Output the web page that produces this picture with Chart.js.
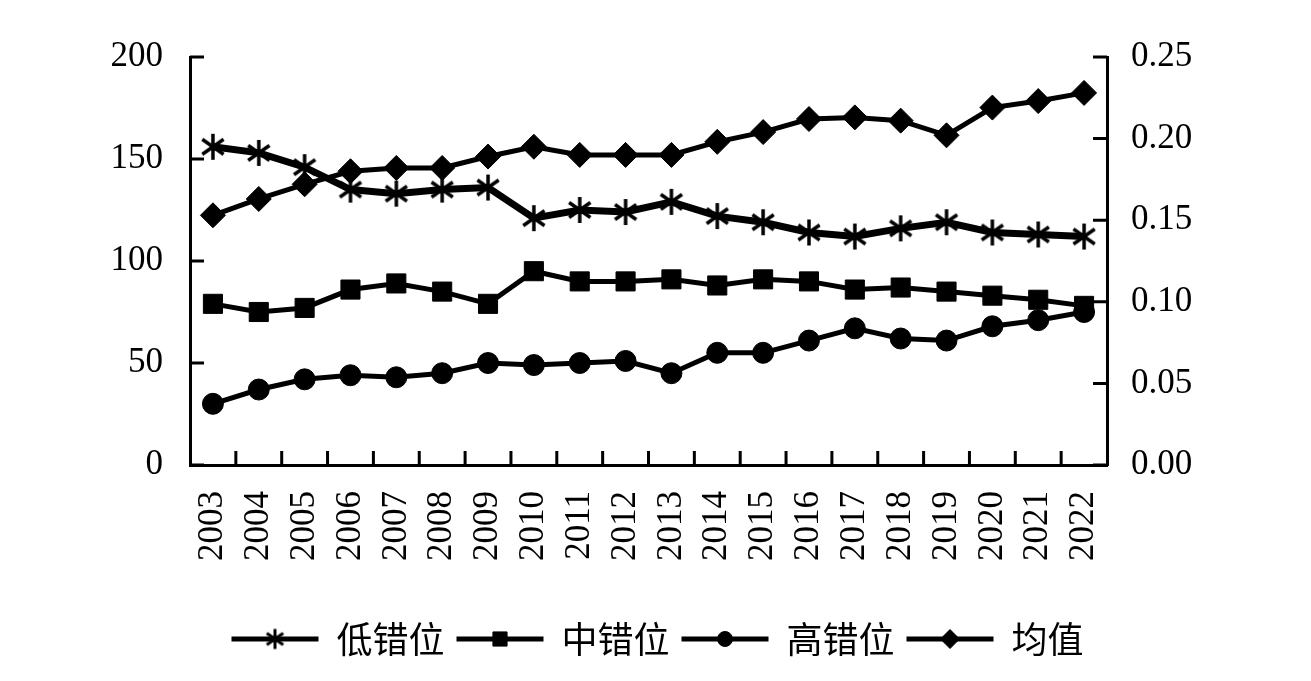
<!DOCTYPE html>
<html>
<head>
<meta charset="utf-8">
<script src="https://cdn.jsdelivr.net/npm/chart.js@4.4.1/dist/chart.umd.min.js"></script>
<style>
  html, body { margin: 0; padding: 0; background: #fff; }
  #wrap { width: 1311px; height: 681px; position: relative; }
</style>
</head>
<body>
<div id="wrap"><canvas id="canvas"></canvas></div>
<script>
const years = ['2003','2004','2005','2006','2007','2008','2009','2010','2011','2012',
               '2013','2014','2015','2016','2017','2018','2019','2020','2021','2022'];
const lowVals  = [156, 153, 146, 135, 133, 135, 136, 121, 125, 124,
                  129, 122, 119, 114, 112, 116, 119, 114, 113, 112];
const midVals  = [79, 75, 77, 86, 89, 85, 79, 95, 90, 90,
                  91, 88, 91, 90, 86, 87, 85, 83, 81, 78];
const highVals = [30, 37, 42, 44, 43, 45, 50, 49, 50, 51,
                  45, 55, 55, 61, 67, 62, 61, 68, 71, 75];
const meanVals = [0.153, 0.163, 0.172, 0.180, 0.182, 0.182, 0.189, 0.195, 0.190, 0.190,
                  0.190, 0.198, 0.204, 0.212, 0.213, 0.211, 0.202, 0.219, 0.223, 0.228];
const leftTicks = [0, 50, 100, 150, 200];
const rightTicks = [0, 0.05, 0.10, 0.15, 0.20, 0.25];
const names = ['低错位', '中错位', '高错位', '均值'];

const numFont = { family: '"Liberation Serif", "Times New Roman", serif', size: 35 };

// asterisk marker (vertical stroke plus an X)
function makeAsterisk(r, lw) {
  const c = document.createElement('canvas');
  const s = Math.ceil(2 * r + lw + 2);
  c.width = s; c.height = s;
  const g = c.getContext('2d');
  g.strokeStyle = '#000';
  g.lineWidth = lw;
  g.lineCap = 'butt';
  const m = s / 2;
  [90, 35, 145].forEach(function(a) {
    const rad = a * Math.PI / 180;
    g.beginPath();
    g.moveTo(m - r * Math.cos(rad), m - r * Math.sin(rad));
    g.lineTo(m + r * Math.cos(rad), m + r * Math.sin(rad));
    g.stroke();
  });
  return c;
}
const asterBig = makeAsterisk(13, 3.5);
const asterSmall = makeAsterisk(10, 3);

const markers = [
  { style: asterBig,  legend: asterSmall, r: 13, lr: 10 },
  { style: 'rect',    legend: 'rect',     r: 13.5, lr: 10 },
  { style: 'circle',  legend: 'circle',   r: 10.5, lr: 7.5 },
  { style: 'rectRot', legend: 'rectRot',  r: 12.5, lr: 9.5 }
];

function series(i, data, axis, width) {
  return {
    label: names[i],
    data: data,
    yAxisID: axis,
    borderColor: '#000',
    backgroundColor: '#000',
    borderWidth: width,
    pointStyle: markers[i].style,
    pointRadius: markers[i].r,
    pointHoverRadius: markers[i].r,
    pointBackgroundColor: '#000',
    pointBorderColor: '#000',
    pointBorderWidth: 1,
    tension: 0,
    clip: false
  };
}

// ticks pointing into the plot, drawn from the scales
const innerTicks = {
  id: 'innerTicks',
  afterDraw(chart) {
    const ctx = chart.ctx;
    const x = chart.scales.x, y = chart.scales.y, y1 = chart.scales.y1;
    const len = 14;
    ctx.save();
    ctx.strokeStyle = '#000';
    ctx.lineWidth = 3;
    ctx.beginPath();
    leftTicks.forEach(function(v) {
      const py = y.getPixelForValue(v);
      ctx.moveTo(y.right, py); ctx.lineTo(y.right + len, py);
    });
    rightTicks.forEach(function(v) {
      const py = y1.getPixelForValue(v);
      ctx.moveTo(y1.left, py); ctx.lineTo(y1.left - len, py);
    });
    for (let i = 1; i < years.length; i++) {
      const px = (x.getPixelForValue(i - 1) + x.getPixelForValue(i)) / 2;
      ctx.moveTo(px, x.top); ctx.lineTo(px, x.top - len);
    }
    ctx.stroke();
    ctx.restore();
  }
};

// markers on the legend lines
const legendMarks = {
  id: 'legendMarks',
  afterDraw(chart) {
    const lg = chart.legend;
    if (!lg || !lg.legendHitBoxes) return;
    const ctx = chart.ctx;
    const bw = lg.options.labels.boxWidth;
    const fs = lg.options.labels.font.size;
    ctx.save();
    ctx.fillStyle = '#000';
    ctx.strokeStyle = '#000';
    lg.legendHitBoxes.forEach(function(hb, i) {
      const m = markers[i];
      Chart.helpers.drawPoint(ctx, { pointStyle: m.legend, radius: m.lr, borderWidth: 1, rotation: 0 },
        hb.left + bw / 2, hb.top + fs / 2);
    });
    ctx.restore();
  }
};

new Chart(document.getElementById('canvas'), {
  type: 'line',
  data: {
    labels: years,
    datasets: [
      series(0, lowVals, 'y', 7),
      series(1, midVals, 'y', 5),
      series(2, highVals, 'y', 5),
      series(3, meanVals, 'y1', 5)
    ]
  },
  options: {
    responsive: true,
    maintainAspectRatio: false,
    animation: false,
    events: [],
    layout: { padding: { top: 57, right: 0, bottom: 14, left: 4 } },
    scales: {
      x: {
        type: 'category',
        offset: true,
        grid: { display: false, drawTicks: false },
        border: { display: true, color: '#000', width: 3 },
        ticks: {
          color: '#000', font: numFont, autoSkip: false,
          minRotation: 90, maxRotation: 90, padding: 26
        },
        afterFit(s) { s.height = 144; }
      },
      y: {
        position: 'left',
        min: 0, max: 200,
        grid: { display: false, drawTicks: false },
        border: { display: true, color: '#000', width: 3 },
        ticks: { color: '#000', font: numFont, stepSize: 50, padding: 27 },
        afterFit(s) { s.width = 186; }
      },
      y1: {
        position: 'right',
        min: 0, max: 0.25,
        grid: { display: false, drawTicks: false },
        border: { display: true, color: '#000', width: 3 },
        ticks: {
          color: '#000', font: numFont, stepSize: 0.05, padding: 24,
          callback: function(v) { return Number(v).toFixed(2); }
        },
        afterFit(s) { s.width = 204; }
      }
    },
    plugins: {
      tooltip: { enabled: false },
      legend: {
        position: 'bottom',
        labels: {
          color: '#000',
          font: { family: '"Noto Sans CJK SC", sans-serif', size: 36 },
          boxWidth: 87,
          boxHeight: 5,
          padding: 12,
          generateLabels(chart) {
            return Chart.defaults.plugins.legend.labels.generateLabels(chart).map(function(l) {
              l.lineWidth = 0; l.fillStyle = '#000'; l.strokeStyle = '#000';
              return l;
            });
          }
        }
      }
    }
  },
  plugins: [innerTicks, legendMarks]
});
</script>
</body>
</html>
